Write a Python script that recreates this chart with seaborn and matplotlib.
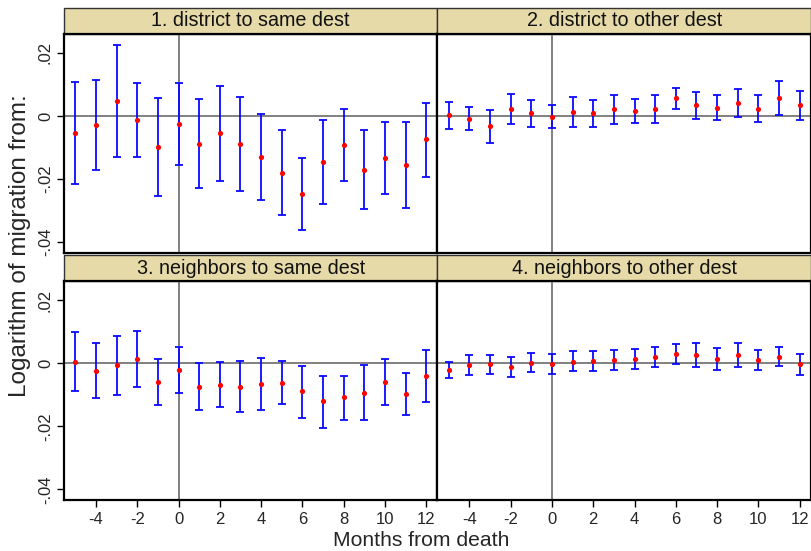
import numpy as np
import pandas as pd
import matplotlib
matplotlib.use("Agg")
import matplotlib.pyplot as plt
from matplotlib.patches import Rectangle
import seaborn as sns

# months relative to death
months = list(range(-5, 13))

panel_titles = ["1. district to same dest", "2. district to other dest",
                "3. neighbors to same dest", "4. neighbors to other dest"]

# point estimates and 95% bounds
coef_1 = [-0.0053, -0.0028, 0.0047, -0.0013, -0.0097, -0.0026, -0.0088, -0.0055, -0.0090,
          -0.0129, -0.0181, -0.0248, -0.0147, -0.0093, -0.0170, -0.0133, -0.0156, -0.0074]
hi_1 = [0.0107, 0.0115, 0.0224, 0.0105, 0.0058, 0.0104, 0.0053, 0.0094, 0.0060,
        0.0006, -0.0044, -0.0134, -0.0014, 0.0021, -0.0044, -0.0019, -0.0020, 0.0042]
lo_1 = [-0.0215, -0.0170, -0.0130, -0.0129, -0.0253, -0.0156, -0.0227, -0.0205, -0.0239,
        -0.0265, -0.0315, -0.0361, -0.0279, -0.0207, -0.0296, -0.0247, -0.0291, -0.0192]

coef_2 = [0.0002, -0.0008, -0.0033, 0.0021, 0.0010, -0.0002, 0.0013, 0.0010, 0.0021,
          0.0017, 0.0023, 0.0057, 0.0034, 0.0026, 0.0041, 0.0023, 0.0058, 0.0035]
hi_2 = [0.0045, 0.0028, 0.0019, 0.0069, 0.0052, 0.0036, 0.0059, 0.0052, 0.0068,
        0.0055, 0.0068, 0.0090, 0.0076, 0.0066, 0.0086, 0.0067, 0.0111, 0.0080]
lo_2 = [-0.0042, -0.0043, -0.0085, -0.0025, -0.0034, -0.0038, -0.0034, -0.0034, -0.0025,
        -0.0022, -0.0022, 0.0023, -0.0008, -0.0014, -0.0003, -0.0020, 0.0004, -0.0012]

coef_3 = [0.0005, -0.0023, -0.0006, 0.0013, -0.0059, -0.0021, -0.0074, -0.0068, -0.0074,
          -0.0066, -0.0062, -0.0089, -0.0121, -0.0108, -0.0093, -0.0059, -0.0098, -0.0041]
hi_3 = [0.0099, 0.0064, 0.0086, 0.0101, 0.0015, 0.0052, 0.0000, 0.0003, 0.0006,
        0.0016, 0.0006, -0.0008, -0.0039, -0.0039, -0.0004, 0.0013, -0.0032, 0.0042]
lo_3 = [-0.0087, -0.0109, -0.0099, -0.0075, -0.0133, -0.0095, -0.0147, -0.0138, -0.0153,
        -0.0148, -0.0129, -0.0172, -0.0204, -0.0179, -0.0181, -0.0132, -0.0165, -0.0124]

coef_4 = [-0.0021, -0.0004, -0.0003, -0.0013, 0.0002, -0.0003, 0.0005, 0.0006, 0.0011,
          0.0015, 0.0019, 0.0029, 0.0025, 0.0015, 0.0027, 0.0011, 0.0021, -0.0002]
hi_4 = [0.0004, 0.0027, 0.0027, 0.0019, 0.0033, 0.0028, 0.0038, 0.0038, 0.0043,
        0.0044, 0.0051, 0.0061, 0.0063, 0.0049, 0.0064, 0.0041, 0.0051, 0.0031]
lo_4 = [-0.0046, -0.0036, -0.0035, -0.0044, -0.0027, -0.0033, -0.0026, -0.0023, -0.0021,
        -0.0017, -0.0012, -0.0002, -0.0012, -0.0020, -0.0011, -0.0020, -0.0008, -0.0036]

yticks = [0.02, 0, -0.02, -0.04]
ytick_labels = [".02", "0", "-.02", "-.04"]
xticks = [-4, -2, 0, 2, 4, 6, 8, 10, 12]

frames = []
for t, c, h, l in zip(panel_titles, [coef_1, coef_2, coef_3, coef_4],
                      [hi_1, hi_2, hi_3, hi_4], [lo_1, lo_2, lo_3, lo_4]):
    frames.append(pd.DataFrame({"panel": t, "month": months, "coef": c, "hi": h, "lo": l}))
df = pd.concat(frames, ignore_index=True)

sns.set_style("white")
plt.rcParams['font.family'] = ['Liberation Sans', 'DejaVu Sans']

W, H = 812, 551
g = sns.FacetGrid(df, col="panel", col_wrap=2, sharex=True, sharey=True,
                  despine=False, height=2.5, aspect=1.5)
g.figure.set_size_inches(W / 100, H / 100)
g.figure.set_dpi(100)


def draw_ci(data, **kws):
    ax = plt.gca()
    ax.axhline(0, color="#808080", lw=1.4, zorder=1)
    ax.axvline(0, color="#808080", lw=1.4, zorder=1)
    ax.errorbar(data["month"], data["coef"],
                yerr=[data["coef"] - data["lo"], data["hi"] - data["coef"]],
                fmt="none", ecolor="#0a0aff", elinewidth=1.3, capsize=2.7,
                capthick=1.3, zorder=2)


g.map_dataframe(draw_ci)
g.map_dataframe(sns.scatterplot, x="month", y="coef", color="red", s=14,
                linewidth=0, zorder=3)

g.set(xlim=(-5.55, 12.55), ylim=(-0.0435, 0.026))
g.set_titles("")
g.set_axis_labels("", "")

left, right = 64 / W, 811 / W
top, bottom = 1 - 34 / H, 1 - 500.5 / H
g.figure.subplots_adjust(left=left, right=right, top=top, bottom=bottom,
                         wspace=0, hspace=28 / 219)

strip_h = 26 / 219
for i, ax in enumerate(g.axes.flat):
    for sp in ax.spines.values():
        sp.set_color("black")
        sp.set_linewidth(1.6)
    ax.add_patch(Rectangle((0, 1), 1, strip_h, transform=ax.transAxes,
                           facecolor="#e6daa8", edgecolor="#333333", lw=1.0,
                           clip_on=False, zorder=0))
    ax.text(0.5, 1 + strip_h / 2, panel_titles[i], transform=ax.transAxes,
            ha="center", va="center", fontsize=14.2, color="#111111")
    ax.set_yticks(yticks)
    ax.set_xticks(xticks)
    if i % 2 == 0:
        ax.set_yticklabels(ytick_labels, rotation=90, va="center", fontsize=12)
        ax.tick_params(axis="y", direction="out", length=5, width=1, left=True,
                       color="black", pad=3)
    else:
        ax.tick_params(axis="y", left=False, labelleft=False)
    if i >= 2:
        ax.set_xticklabels([str(x) for x in xticks], fontsize=12)
        ax.tick_params(axis="x", direction="out", length=5, width=1, bottom=True,
                       color="black", pad=3)
    else:
        ax.tick_params(axis="x", bottom=False, labelbottom=False)

g.figure.text(20 / W, 1 - 246 / H, "Logarithm of migration from:", rotation=90,
              ha="center", va="center", fontsize=17.5)
g.figure.text(421 / W, 1 - 540 / H, "Months from death", ha="center",
              va="center", fontsize=15.2)

g.figure.savefig("out.png", dpi=100)
